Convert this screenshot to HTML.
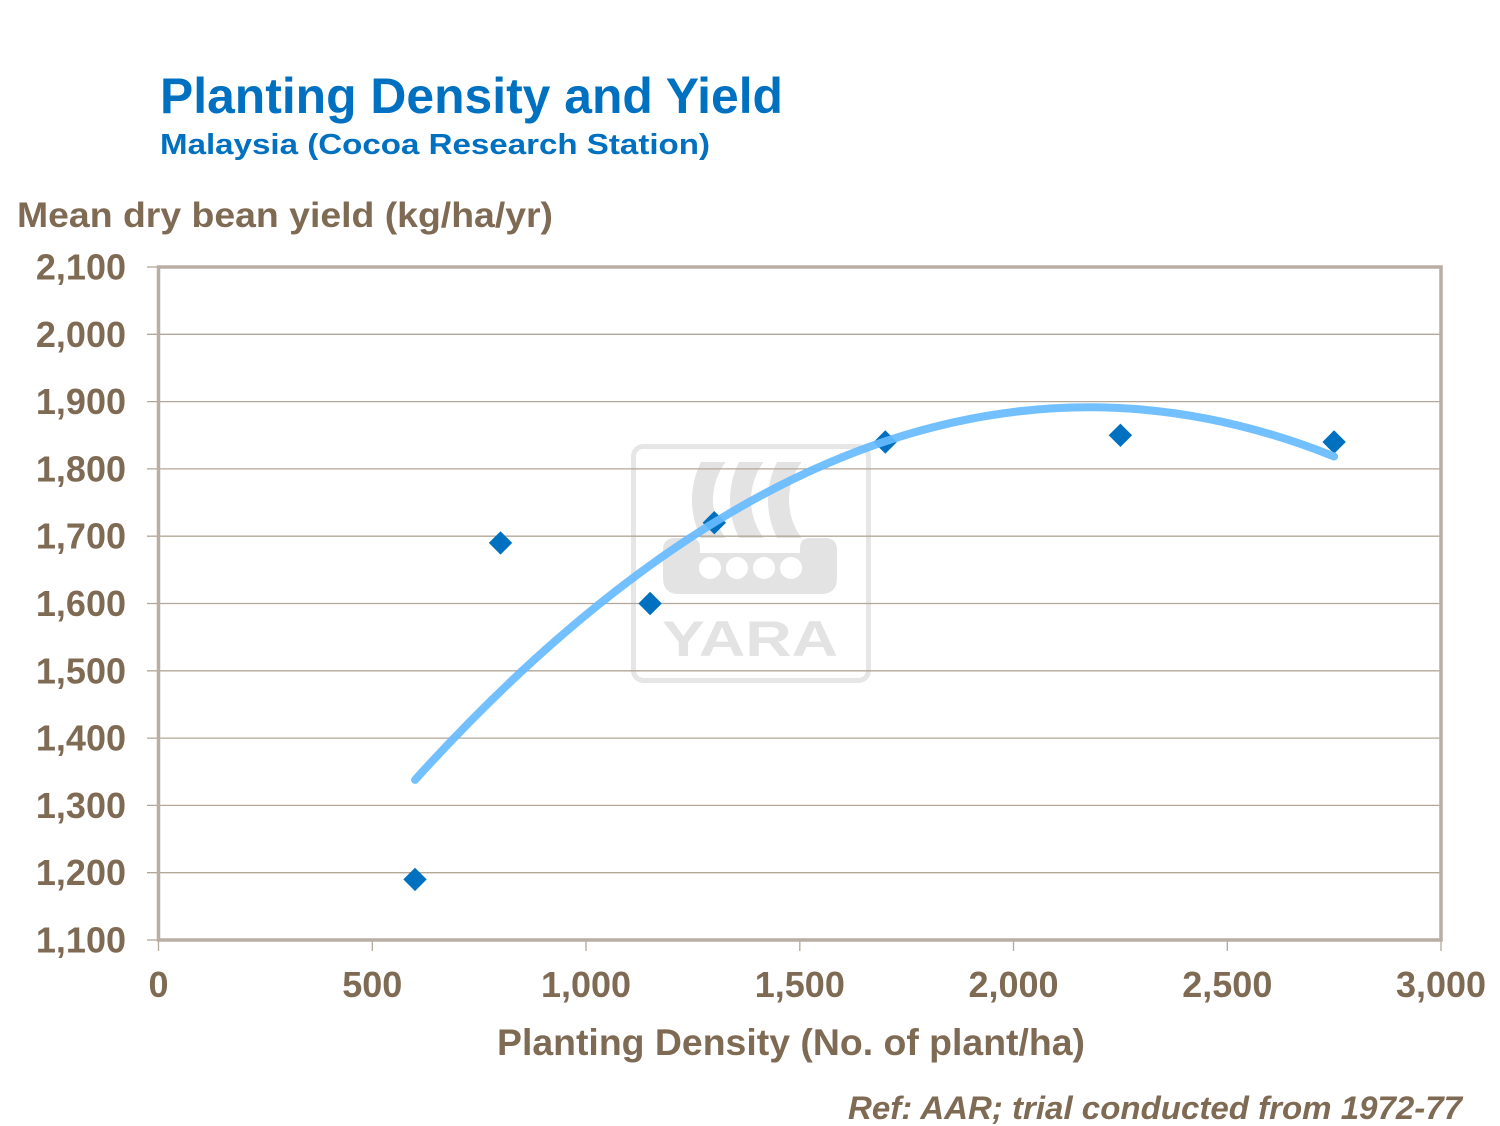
<!DOCTYPE html>
<html>
<head>
<meta charset="utf-8">
<style>
  html, body { margin: 0; padding: 0; background: #ffffff; }
  svg { display: block; }
  text { font-family: "Liberation Sans", Arial, sans-serif; font-weight: bold; }
</style>
</head>
<body>
<svg width="1500" height="1126" viewBox="0 0 1500 1126" xmlns="http://www.w3.org/2000/svg">
  <rect width="1500" height="1126" fill="#ffffff"/>

  <!-- Titles -->
  <text x="160" y="113" font-size="50" fill="#0070c0" textLength="623" lengthAdjust="spacingAndGlyphs">Planting Density and Yield</text>
  <text x="160" y="154" font-size="29" fill="#0070c0" textLength="550" lengthAdjust="spacingAndGlyphs">Malaysia (Cocoa Research Station)</text>
  <text x="17" y="227" font-size="35" fill="#7f6a54" textLength="536" lengthAdjust="spacingAndGlyphs">Mean dry bean yield (kg/ha/yr)</text>

  <!-- Watermark logo -->
  <g fill="#e3e3e3">
    <rect x="633.5" y="446.5" width="235" height="234" rx="10" ry="10" fill="none" stroke="#e6e6e6" stroke-width="5"/>
    <path d="M701,462 A84.7,84.7 0 0 0 701,538 L725.6,538 A63.7,63.7 0 0 1 725.6,462 Z"/>
    <path d="M739,462 A84.7,84.7 0 0 0 739,538 L763.6,538 A63.7,63.7 0 0 1 763.6,462 Z"/>
    <path d="M777,462 A84.7,84.7 0 0 0 777,538 L801.6,538 A63.7,63.7 0 0 1 801.6,462 Z"/>
    <path d="M663,550 Q663,538 675,538 L690,538 Q700,538 700,548 L700,553 L800,553 L800,548 Q800,538 810,538 L825,538 Q837,538 837,550 L837,578 Q837,594 821,594 L679,594 Q663,594 663,578 Z"/>
    <circle cx="710" cy="568" r="11" fill="#ffffff"/>
    <circle cx="737" cy="568" r="11" fill="#ffffff"/>
    <circle cx="764" cy="568" r="11" fill="#ffffff"/>
    <circle cx="791" cy="568" r="11" fill="#ffffff"/>
    <text x="662" y="656" font-size="50" fill="#e3e3e3" textLength="176" lengthAdjust="spacingAndGlyphs">YARA</text>
  </g>

  <!-- Gridlines -->
  <g stroke="#b3a799" stroke-width="1.3">
    <line x1="147" y1="872.7" x2="1441" y2="872.7"/>
    <line x1="147" y1="805.4" x2="1441" y2="805.4"/>
    <line x1="147" y1="738.1" x2="1441" y2="738.1"/>
    <line x1="147" y1="670.8" x2="1441" y2="670.8"/>
    <line x1="147" y1="603.5" x2="1441" y2="603.5"/>
    <line x1="147" y1="536.2" x2="1441" y2="536.2"/>
    <line x1="147" y1="468.9" x2="1441" y2="468.9"/>
    <line x1="147" y1="401.6" x2="1441" y2="401.6"/>
    <line x1="147" y1="334.3" x2="1441" y2="334.3"/>
    <line x1="147" y1="267" x2="158" y2="267"/>
    <line x1="147" y1="940" x2="158" y2="940"/>
    <!-- x ticks -->
    <line x1="158.5" y1="940" x2="158.5" y2="951"/>
    <line x1="372.3" y1="940" x2="372.3" y2="951"/>
    <line x1="586" y1="940" x2="586" y2="951"/>
    <line x1="799.8" y1="940" x2="799.8" y2="951"/>
    <line x1="1013.5" y1="940" x2="1013.5" y2="951"/>
    <line x1="1227.3" y1="940" x2="1227.3" y2="951"/>
    <line x1="1441" y1="940" x2="1441" y2="951"/>
  </g>

  <!-- Plot border -->
  <rect x="158.5" y="267" width="1282.5" height="673" fill="none" stroke="#b9aea3" stroke-width="3.5"/>

  <!-- Y tick labels -->
  <g font-size="36" fill="#7f6a54" text-anchor="end">
    <text x="126" y="279.5">2,100</text>
    <text x="126" y="346.8">2,000</text>
    <text x="126" y="414.1">1,900</text>
    <text x="126" y="481.4">1,800</text>
    <text x="126" y="548.7">1,700</text>
    <text x="126" y="616">1,600</text>
    <text x="126" y="683.3">1,500</text>
    <text x="126" y="750.6">1,400</text>
    <text x="126" y="817.9">1,300</text>
    <text x="126" y="885.2">1,200</text>
    <text x="126" y="952.5">1,100</text>
  </g>

  <!-- X tick labels -->
  <g font-size="36" fill="#7f6a54" text-anchor="middle">
    <text x="158.5" y="997">0</text>
    <text x="372.3" y="997">500</text>
    <text x="586" y="997">1,000</text>
    <text x="799.8" y="997">1,500</text>
    <text x="1013.5" y="997">2,000</text>
    <text x="1227.3" y="997">2,500</text>
    <text x="1441" y="997">3,000</text>
  </g>

  <!-- X axis title -->
  <text x="497" y="1055" font-size="37" fill="#7f6a54" textLength="588" lengthAdjust="spacingAndGlyphs">Planting Density (No. of plant/ha)</text>

  <!-- Markers -->
  <g fill="#0070c0">
    <path d="M415,867.7 L426.7,879.4 L415,891.1 L403.3,879.4 Z"/>
    <path d="M500.5,531.2 L512.2,542.9 L500.5,554.6 L488.8,542.9 Z"/>
    <path d="M650.1,591.8 L661.8,603.5 L650.1,615.2 L638.4,603.5 Z"/>
    <path d="M714.3,511 L726,522.7 L714.3,534.4 L702.6,522.7 Z"/>
    <path d="M885.3,430.3 L897,442 L885.3,453.7 L873.6,442 Z"/>
    <path d="M1120.4,423.6 L1132.1,435.3 L1120.4,447 L1108.7,435.3 Z"/>
    <path d="M1334.1,430.3 L1345.8,442 L1334.1,453.7 L1322.4,442 Z"/>
  </g>

  <!-- Trend line (quadratic) -->
  <path d="M415,779.9 Q874.6,271.8 1334.1,456.5" fill="none" stroke="#66bbff" stroke-opacity="0.92" stroke-width="8" stroke-linecap="round"/>

  <!-- Footer -->
  <text x="848" y="1119" font-size="32" font-style="italic" fill="#7f6a54" textLength="614" lengthAdjust="spacingAndGlyphs">Ref: AAR; trial conducted from 1972-77</text>
</svg>
</body>
</html>
